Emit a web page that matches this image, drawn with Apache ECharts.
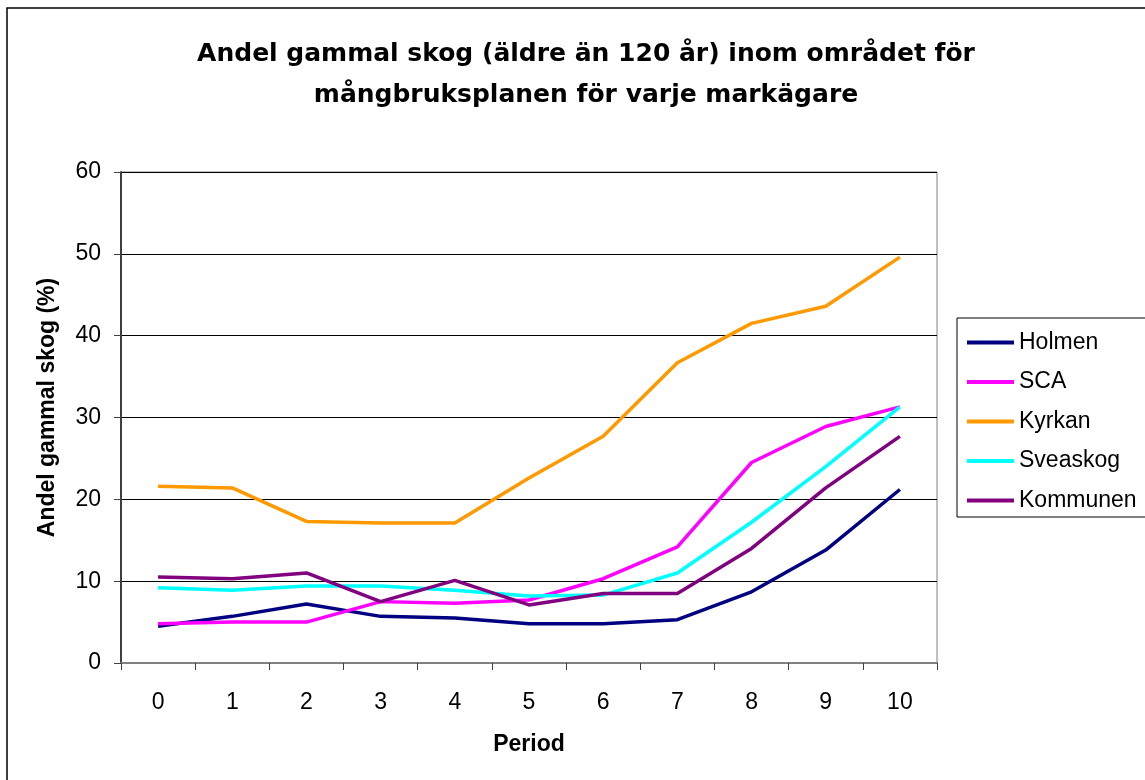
<!DOCTYPE html>
<html>
<head>
<meta charset="utf-8">
<title>Andel gammal skog</title>
<script src="https://cdn.jsdelivr.net/npm/echarts@6/dist/echarts.min.js"></script>
<style>
  html, body { margin: 0; padding: 0; background: #fff; }
  #chart { width: 1145px; height: 780px; }
</style>
</head>
<body>
<div id="chart"></div>
<script>
var periods = ['0', '1', '2', '3', '4', '5', '6', '7', '8', '9', '10'];
var yTicks = [0, 10, 20, 30, 40, 50, 60];

var holmen   = [4.5, 5.7, 7.2, 5.7, 5.5, 4.8, 4.8, 5.3, 8.7, 13.8, 21.2];
var sca      = [4.8, 5.0, 5.0, 7.5, 7.3, 7.7, 10.3, 14.2, 24.5, 28.9, 31.3];
var kyrkan   = [21.6, 21.4, 17.3, 17.1, 17.1, 22.6, 27.7, 36.7, 41.5, 43.6, 49.6];
var sveaskog = [9.2, 8.9, 9.4, 9.4, 8.9, 8.2, 8.3, 11.0, 17.2, 24.0, 31.3];
var kommunen = [10.5, 10.3, 11.0, 7.5, 10.1, 7.1, 8.5, 8.5, 14.0, 21.4, 27.7];

var seriesNames = ['Holmen', 'SCA', 'Kyrkan', 'Sveaskog', 'Kommunen'];
var seriesData = [holmen, sca, kyrkan, sveaskog, kommunen];
var seriesColors = ['#000080', '#ff00ff', '#ff9900', '#00ffff', '#800080'];

function drawForestChart () {
	var myChart = echarts.init(document.getElementById('chart'));
	var font = 'Liberation Sans, Arial, sans-serif';

	var series = seriesNames.map(function (name, i) {
		return {
			name: name,
			type: 'line',
			data: seriesData[i],
			symbol: 'none',
			color: seriesColors[i],
			lineStyle: { width: 3.5, color: seriesColors[i] },
			animation: false
		};
	});

option = {
    backgroundColor: '#fff',
    animation: false,
    textStyle: { fontFamily: font },
    title: {
        text: 'Andel gammal skog (äldre än 120 år) inom området för\nmångbruksplanen för varje markägare',
        left: 581,
        top: 29,
        textAlign: 'center',
        textStyle: {
            fontSize: 25,
            fontWeight: 'bold',
            fontFamily: 'DejaVu Sans, sans-serif',
            color: '#000',
            lineHeight: 41
        }
    },
    legend: {
        orient: 'vertical',
        left: 962,
        top: 326,
        icon: 'rect',
        itemWidth: 47,
        itemHeight: 4,
        itemGap: 16.5,
        data: seriesNames,
        textStyle: { fontSize: 23, color: '#000', fontFamily: font }
    },
    grid: {
        left: 121,
        right: 208,
        top: 172,
        bottom: 117,
        show: true,
        borderColor: '#808080',
        borderWidth: 1
    },
    xAxis: {
        type: 'category',
        data: periods,
        boundaryGap: true,
        name: 'Period',
        nameLocation: 'middle',
        nameGap: 70,
        nameTextStyle: { fontSize: 23, fontWeight: 'bold', color: '#000', fontFamily: font },
        axisLine: { lineStyle: { color: '#808080', width: 2 } },
        axisTick: { show: true, length: 7, lineStyle: { color: '#404040' } },
        axisLabel: { fontSize: 23, color: '#000', margin: 28, fontFamily: font },
        splitLine: { show: false }
    },
    yAxis: {
        type: 'value',
        min: yTicks[0],
        max: yTicks[yTicks.length - 1],
        interval: yTicks[1] - yTicks[0],
        name: 'Andel gammal skog (%)',
        nameLocation: 'middle',
        nameGap: 62,
        nameTextStyle: { fontSize: 23, fontWeight: 'bold', color: '#000', fontFamily: font, padding: [0, 0, 0, 20] },
        axisLine: { show: true, lineStyle: { color: '#404040', width: 2 } },
        axisTick: { show: true, length: 7, lineStyle: { color: '#404040' } },
        axisLabel: { fontSize: 23, color: '#000', margin: 20, fontFamily: font },
        splitLine: { show: true, lineStyle: { color: '#000', width: 1 } }
    },
    graphic: [
        {
            type: 'rect',
            shape: { x: 7, y: 8, width: 1160, height: 800 },
            style: { fill: 'none', stroke: '#000', lineWidth: 1.5 },
            silent: true
        },
        {
            type: 'rect',
            shape: { x: 957, y: 318, width: 200, height: 199 },
            style: { fill: 'none', stroke: '#000', lineWidth: 1 },
            silent: true
        }
    ],
    series: series
};

	myChart.setOption(option);
}

drawForestChart();
</script>
</body>
</html>
